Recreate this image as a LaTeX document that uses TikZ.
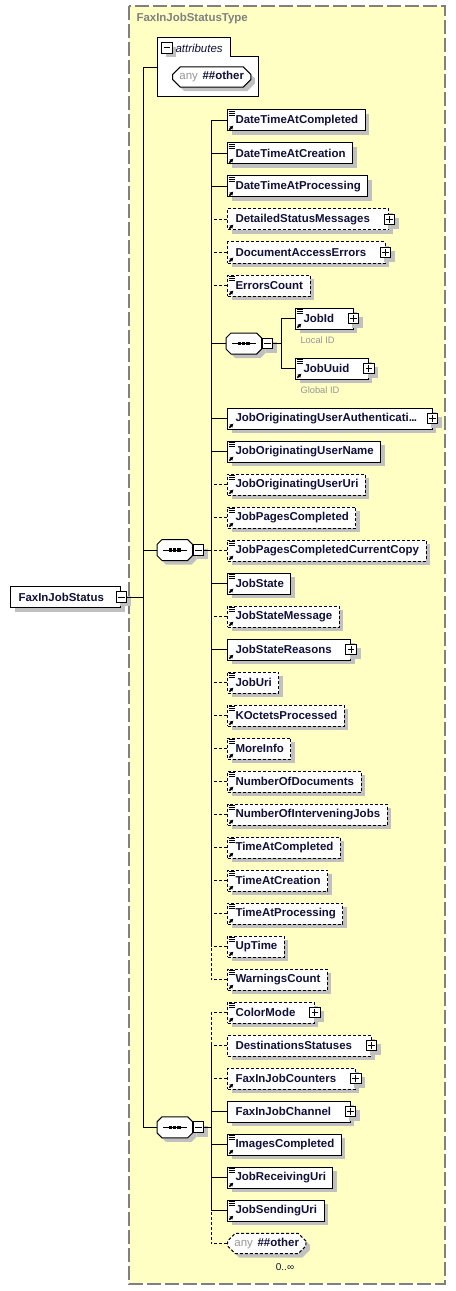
\documentclass[tikz,border=0pt]{standalone}
\usepackage{fontspec}
\setmainfont{Liberation Sans}
\usetikzlibrary{shapes.misc,shadows,calc,arrows.meta}

\definecolor{typefill}{RGB}{255,255,196}
\definecolor{typeline}{RGB}{128,128,128}
\definecolor{shadowgray}{RGB}{192,192,192}
\definecolor{namecol}{RGB}{16,16,56}
\definecolor{dimtext}{RGB}{150,150,150}

\tikzset{every picture/.style={line width=0.75pt}}
\tikzset{
  elshadow/.style={drop shadow={shadow xshift=3pt,shadow yshift=-3pt,fill=shadowgray,opacity=1}},
  elbox/.style={draw,fill=white,elshadow,anchor=west,minimum height=15.75pt,inner xsep=0pt,inner ysep=0pt,
    font=\fontsize{8.6}{10}\selectfont\bfseries,text=namecol,
    execute at begin node=\hspace*{6pt},execute at end node=\hspace*{5.25pt}},
  opt/.style={dash pattern=on 2.25pt off 1.5pt},
  wide/.style={execute at end node=\hspace*{9pt}},
  pmbox/.style={draw,fill=white,elshadow,minimum size=8pt,inner sep=0pt},
  colbox/.style={pmbox,path picture={
    \draw ($(path picture bounding box.west)!.2!(path picture bounding box.east)$) -- ($(path picture bounding box.west)!.8!(path picture bounding box.east)$);}},
  expbox/.style={pmbox,path picture={
    \draw ($(path picture bounding box.west)!.2!(path picture bounding box.east)$) -- ($(path picture bounding box.west)!.8!(path picture bounding box.east)$);
    \draw ($(path picture bounding box.south)!.2!(path picture bounding box.north)$) -- ($(path picture bounding box.south)!.8!(path picture bounding box.north)$);}},
  seqbox/.style={anchor=west,minimum width=26pt,minimum height=15pt,inner sep=0pt},
  wildbox/.style={chamfered rectangle,chamfered rectangle xsep=2.2pt,draw,fill=white,elshadow,anchor=west,
    minimum height=15pt,inner xsep=3pt,inner ysep=0pt,font=\fontsize{8.6}{10}\selectfont\bfseries,text=namecol},
  note/.style={anchor=west,inner sep=0pt,font=\fontsize{7}{8}\selectfont,text=dimtext}
}

\newcommand\elLines[1]{%
  \draw ([shift={(1.5,2)}]#1.north west) -- ++(6,0)
        ([shift={(1.5,4)}]#1.north west) -- ++(6,0)
        ([shift={(1.5,6)}]#1.north west) -- ++(6,0);}
\newcommand\elArrow[1]{%
  \draw[line width=1.1pt,-{Triangle[length=2.6pt,width=2.8pt]}] ([shift={(2.3,-1.8)}]#1.south west) -- ++(4,-4);}
% octagon with the sequence sign
\newcommand\seqShape[1]{%
  \draw[fill=white,elshadow] ([shift={(0,5)}]#1.north west) -- ([shift={(5,0)}]#1.north west)
    -- ([shift={(-5,0)}]#1.north east) -- ([shift={(0,5)}]#1.north east)
    -- ([shift={(0,-5)}]#1.south east) -- ([shift={(-5,0)}]#1.south east)
    -- ([shift={(5,0)}]#1.south west) -- ([shift={(0,-5)}]#1.south west) -- cycle;
  \draw ([shift={(6,0)}]#1.west) -- ([shift={(-6,0)}]#1.east);
  \foreach \d in {-4.2,0,4.2}
    \fill ([shift={(\d-1.6,-1.6)}]#1.center) rectangle ++(3.2,3.2);}

\begin{document}
\begin{tikzpicture}[x=0.75pt,y=0.75pt,yscale=-1,xscale=1]
\useasboundingbox (0,0) rectangle (456,1291);

% type frame
\draw[draw=typeline,line width=1.2pt,dash pattern=on 10.5pt off 3pt,fill=typefill] (129,6) rectangle (445,1284);
\node[anchor=west,inner sep=0pt,font=\fontsize{8.6}{10}\selectfont\bfseries,text=typeline] (typename) at (136,19) {FaxInJobStatusType};

% attributes
\draw[fill=white] (157,38) -- (230,38) -- (230,57) -- (258,57) -- (258,97) -- (157,97) -- cycle;
\node[colbox,elshadow/.style={}] (attrm) at (167,48) {};
\node[anchor=west,inner sep=0pt,font=\fontsize{8.6}{10}\selectfont\itshape,text=namecol] (attrlbl) at (175,48) {attributes};
\node[wildbox] (attrany) at (172,77) {\textcolor{dimtext}{\mdseries any}\hspace{3.5pt}\#\#other};
\coordinate (attr) at (157,68);

% root element
\node[elbox,execute at end node=\hspace*{7.5pt}] (root) at (10,597) {FaxInJobStatus};
\node[colbox] (rootm) at (root.east) {};
\coordinate (mainbus) at (143,597);

% first sequence
\node[seqbox] (seqA) at (157,550) {};
\seqShape{seqA}
\node[colbox,anchor=west] (seqAm) at (seqA.east) {};
\coordinate (busA) at (211,550);

\node[elbox] (dtcompl) at (227,120.5) {DateTimeAtCompleted};
\node[elbox] (dtcreat) at (227,153.5) {DateTimeAtCreation};
\node[elbox] (dtproc) at (227,186.5) {DateTimeAtProcessing};
\node[elbox,opt,wide] (detmsg) at (227,219.5) {DetailedStatusMessages};
\node[elbox,opt,wide] (docerr) at (227,252.5) {DocumentAccessErrors};
\node[elbox,opt] (errcnt) at (227,285.5) {ErrorsCount};

\node[seqbox] (seqC) at (226,343.5) {};
\seqShape{seqC}
\node[colbox,anchor=west] (seqCm) at (seqC.east) {};
\coordinate (busC) at (281,343.5);
\node[elbox,wide] (jobid) at (295,318.5) {JobId};
\node[elbox,wide] (jobuuid) at (295,368.5) {JobUuid};
\node[note] (jobidnote) at (300,340.5) {Local ID};
\node[note] (jobuuidnote) at (300,390.5) {Global ID};

\node[elbox,execute at end node=\hspace*{6pt}] (jouauth) at (227,418.5) {JobOriginatingUserAuthenticati.\kern-.5pt.\kern-.5pt.};
\node[elbox] (jouname) at (227,451.5) {JobOriginatingUserName};
\node[elbox,opt] (jouuri) at (227,484.5) {JobOriginatingUserUri};
\node[elbox,opt] (jpcompl) at (227,517.5) {JobPagesCompleted};
\node[elbox,opt] (jpccopy) at (227,550.5) {JobPagesCompletedCurrentCopy};
\node[elbox] (jstate) at (227,583.5) {JobState};
\node[elbox,opt] (jsmsg) at (227,616.5) {JobStateMessage};
\node[elbox,wide] (jsreas) at (227,649.5) {JobStateReasons};
\node[elbox,opt] (juri) at (227,682.5) {JobUri};
\node[elbox,opt] (koct) at (227,715.5) {KOctetsProcessed};
\node[elbox,opt] (moreinfo) at (227,748.5) {MoreInfo};
\node[elbox,opt] (numdocs) at (227,781.5) {NumberOfDocuments};
\node[elbox,opt] (numinterv) at (227,814.5) {NumberOfInterveningJobs};
\node[elbox,opt] (tacompl) at (227,847.5) {TimeAtCompleted};
\node[elbox,opt] (tacreat) at (227,880.5) {TimeAtCreation};
\node[elbox,opt] (taproc) at (227,913.5) {TimeAtProcessing};
\node[elbox,opt] (uptime) at (227,946.5) {UpTime};
\node[elbox,opt] (warncnt) at (227,979.5) {WarningsCount};

% second sequence
\node[seqbox] (seqB) at (157,1127.3) {};
\seqShape{seqB}
\node[colbox,anchor=west] (seqBm) at (seqB.east) {};
\coordinate (busB) at (211,1127.3);

\node[elbox,opt,wide] (colormode) at (227,1012.5) {ColorMode};
\node[elbox,opt,wide] (deststat) at (227,1045.5) {DestinationsStatuses};
\node[elbox,opt,wide] (fcounters) at (227,1078.5) {FaxInJobCounters};
\node[elbox,wide] (fchannel) at (227,1111.5) {FaxInJobChannel};
\node[elbox] (imgcompl) at (227,1144.5) {ImagesCompleted};
\node[elbox] (jrecv) at (227,1177.5) {JobReceivingUri};
\node[elbox] (jsend) at (227,1210.5) {JobSendingUri};
\node[wildbox,opt] (anyB) at (227,1243.5) {\textcolor{dimtext}{\mdseries any}\hspace{3.5pt}\#\#other};
\node[anchor=center,inner sep=0pt,font=\fontsize{7.5}{9}\selectfont,text=namecol] (anyBocc) at (285,1267) {0..∞};

% expand boxes
\node[expbox] (detmsgx) at (detmsg.east) {};
\node[expbox] (docerrx) at (docerr.east) {};
\node[expbox] (jobidx) at (jobid.east) {};
\node[expbox] (jobuuidx) at (jobuuid.east) {};
\node[expbox] (jouauthx) at (jouauth.east) {};
\node[expbox] (jsreasx) at (jsreas.east) {};
\node[expbox] (colormodex) at (colormode.east) {};
\node[expbox] (deststatx) at (deststat.east) {};
\node[expbox] (fcountersx) at (fcounters.east) {};
\node[expbox] (fchannelx) at (fchannel.east) {};

% icons
\foreach \n in {dtcompl,dtcreat,dtproc,errcnt,jobid,jobuuid,jouname,jouuri,jpcompl,jpccopy,jstate,jsmsg,
  juri,koct,moreinfo,numdocs,numinterv,tacompl,tacreat,taproc,uptime,warncnt,colormode,imgcompl,jrecv,jsend}
  {\elLines{\n}\elArrow{\n}}
\foreach \n in {detmsg,docerr,jouauth,jsreas,fcounters}
  {\elArrow{\n}}

% connectors (optional first)
\foreach \n in {detmsg,docerr,errcnt,jouuri,jpcompl,jpccopy,jsmsg,juri,koct,moreinfo,
  numdocs,numinterv,tacompl,tacreat,taproc,uptime,warncnt}
  {\draw[opt] (\n.west) -| (busA);}
\foreach \n in {dtcompl,dtcreat,dtproc,jouauth,jouname,jstate,jsreas}
  {\draw (\n.west) -| (busA);}
\draw (seqC.west) -| (busA);
\draw (seqCm.east) -- (busC);
\draw (jobid.west) -| (busC);
\draw (jobuuid.west) -| (busC);
\draw (seqAm.east) -- (busA);

\foreach \n in {colormode,deststat,fcounters,anyB}
  {\draw[opt] (\n.west) -| (busB);}
\foreach \n in {fchannel,imgcompl,jrecv,jsend}
  {\draw (\n.west) -| (busB);}
\draw (seqBm.east) -- (busB);

\draw (rootm.east) -- (mainbus);
\draw (attr) -| (mainbus);
\draw (seqA.west) -| (mainbus);
\draw (seqB.west) -| (mainbus);

\end{tikzpicture}
\end{document}
